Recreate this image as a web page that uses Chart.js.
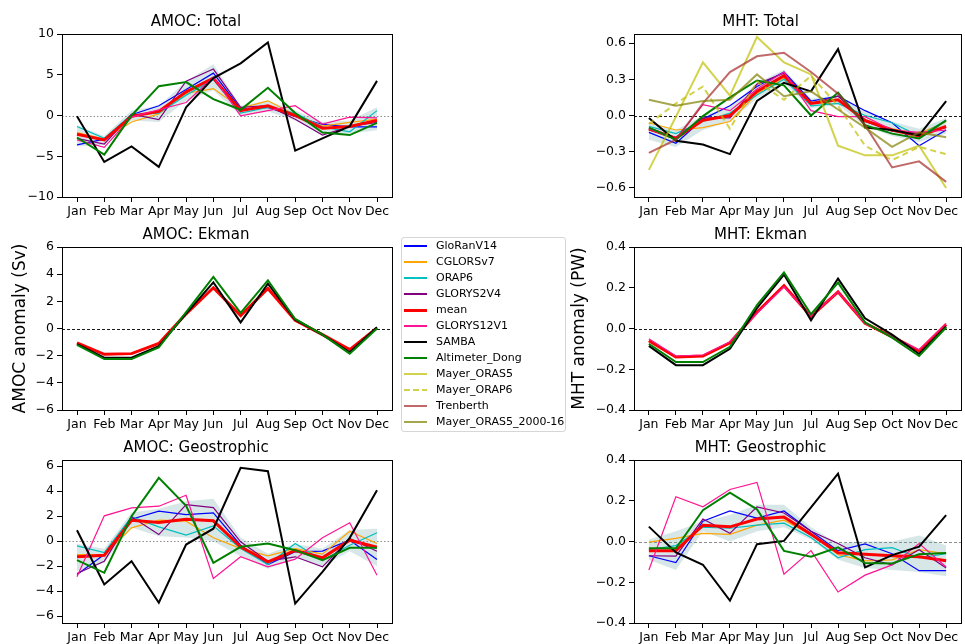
<!DOCTYPE html>
<html>
<head>
<meta charset="utf-8">
<script src="https://cdn.jsdelivr.net/npm/chart.js@4.4.0/dist/chart.umd.min.js"></script>
<style>
body { margin:0; background:#fff; width:965px; height:644px; position:relative; overflow:hidden; font-family:'DejaVu Sans', sans-serif; }
.panel { position:absolute; }
#legend { position:absolute; left:401px; top:237px; width:163px; height:193px; border:1px solid #d6d6d6; border-radius:3px; background:#fff; }
.row { position:absolute; left:0; height:16px; width:163px; }
.sample { position:absolute; left:2px; width:23px; top:8px; }
.lab { position:absolute; left:34px; top:0; line-height:16px; font-size:11px; color:#000; white-space:nowrap; }
</style>
</head>
<body>

<canvas id="c1" class="panel" style="left:0;top:0" width="400" height="227"></canvas>
<canvas id="c2" class="panel" style="left:560px;top:0" width="405" height="227"></canvas>
<canvas id="c3" class="panel" style="left:0;top:213px" width="400" height="227"></canvas>
<canvas id="c4" class="panel" style="left:560px;top:213px" width="405" height="227"></canvas>
<canvas id="c5" class="panel" style="left:0;top:426px" width="400" height="227"></canvas>
<canvas id="c6" class="panel" style="left:560px;top:426px" width="405" height="227"></canvas>
<div id="legend"></div>

<script>
// =========================
// DATOS
// =========================
const months = ['Jan','Feb','Mar','Apr','May','Jun','Jul','Aug','Sep','Oct','Nov','Dec'];
const names = ['GloRanV14','CGLORSv7','ORAP6','GLORYS2V4','mean','GLORYS12V1','SAMBA',
               'Altimeter_Dong','Mayer_ORAS5','Mayer_ORAP6','Trenberth','Mayer_ORAS5_2000-16'];

// AMOC: Total (Sv)
const aT_gloran   = [-3.6,-2.9,0.1,1.2,3.2,5.2,0.8,1.0,-0.1,-1.1,-1.4,-1.4];
const aT_cglors   = [-2.1,-2.9,-0.8,0.2,2.7,3.3,0.9,1.8,0.1,-1.3,-0.85,-0.45];
const aT_orap6    = [-1.35,-2.8,0.1,0.3,2.5,4.4,0.3,1.0,0.3,-1.4,-2.0,0.6];
const aT_glorys2  = [-2.8,-3.5,0.15,-0.5,4.2,5.7,1.0,1.2,-0.45,-2.4,-1.35,-0.85];
const aT_mean     = [-2.3,-3.0,-0.1,0.5,2.9,4.6,0.6,1.2,0.0,-1.55,-1.35,-0.6];
const aT_glorys12 = [-3.0,-3.9,-0.2,0.7,1.6,4.7,-0.05,0.6,1.2,-1.05,-0.2,-0.3];
const aT_samba    = [-0.1,-5.7,-3.8,-6.3,1.0,4.6,6.4,8.95,-4.3,-2.8,-1.3,4.25];
const aT_dong     = [-2.7,-4.8,0.0,3.6,4.1,2.0,0.7,3.4,0.3,-2.1,-2.4,-0.9];
const aT_bandHi   = [-1.2,-2.5,0.6,1.2,4.2,6.3,1.2,1.8,0.6,-0.8,-0.6,1.0];
const aT_bandLo   = [-3.8,-3.6,-0.6,-0.8,1.8,3.1,0.0,0.5,-0.6,-2.3,-2.2,-1.8];

// MHT: Total (PW)
const mT_gloran   = [-0.14,-0.23,-0.03,0.08,0.24,0.36,0.12,0.16,0.04,-0.06,-0.25,-0.12];
const mT_cglors   = [-0.06,-0.12,-0.10,-0.05,0.18,0.31,0.10,0.13,-0.05,-0.11,-0.15,-0.05];
const mT_orap6    = [-0.09,-0.15,-0.05,0.02,0.17,0.30,0.08,0.10,0.00,-0.06,-0.17,-0.04];
const mT_glorys2  = [-0.12,-0.18,-0.02,-0.02,0.26,0.35,0.10,0.16,-0.05,-0.13,-0.15,-0.10];
const mT_mean     = [-0.11,-0.19,-0.04,0.0,0.20,0.33,0.10,0.13,-0.04,-0.12,-0.17,-0.09];
const mT_glorys12 = [-0.11,-0.20,0.09,0.04,0.22,0.36,0.04,-0.01,-0.01,-0.12,-0.14,-0.12];
const mT_samba    = [-0.02,-0.21,-0.24,-0.32,0.12,0.27,0.20,0.55,-0.10,-0.12,-0.165,0.12];
const mT_dong     = [-0.10,-0.20,-0.005,0.15,0.29,0.25,0.0,0.19,-0.08,-0.15,-0.19,-0.04];
const mT_oras5    = [-0.45,-0.01,0.44,0.165,0.65,0.44,0.34,-0.25,-0.33,-0.33,-0.25,-0.60];
const mT_orap6m   = [-0.07,0.10,0.24,-0.11,0.28,0.13,0.33,0.08,-0.25,-0.37,-0.26,-0.32];
const mT_trenb    = [-0.31,-0.20,0.10,0.36,0.49,0.52,0.36,0.18,-0.08,-0.43,-0.38,-0.55];
const mT_oras0016 = [0.13,0.08,0.12,0.13,0.34,0.16,0.20,0.05,-0.10,-0.26,-0.14,-0.18];
const mT_bandHi   = [-0.06,-0.12,0.0,0.07,0.27,0.38,0.14,0.17,0.03,-0.05,-0.11,-0.02];
const mT_bandLo   = [-0.20,-0.26,-0.12,-0.05,0.14,0.27,0.06,0.09,-0.09,-0.17,-0.22,-0.15];

// AMOC: Ekman
const aE_mean  = [-1.05,-1.9,-1.85,-1.1,1.08,3.0,0.95,2.95,0.6,-0.45,-1.55,0.05];
const aE_samba = [-1.15,-2.15,-2.15,-1.3,1.1,3.4,0.45,3.3,0.65,-0.45,-1.75,0.1];
const aE_dong  = [-1.2,-2.25,-2.25,-1.4,1.2,3.8,1.15,3.55,0.7,-0.45,-1.85,0.0];

// MHT: Ekman
const mE_glorys12 = [-0.05,-0.135,-0.13,-0.065,0.075,0.205,0.06,0.18,0.025,-0.04,-0.105,0.025];
const mE_mean     = [-0.06,-0.14,-0.135,-0.07,0.08,0.21,0.06,0.18,0.025,-0.04,-0.11,0.02];
const mE_samba    = [-0.085,-0.18,-0.18,-0.1,0.1,0.265,0.04,0.245,0.05,-0.03,-0.125,0.01];
const mE_dong     = [-0.075,-0.165,-0.165,-0.09,0.115,0.275,0.07,0.225,0.03,-0.045,-0.135,0.005];

// AMOC: Geostrophic
const aG_gloran   = [-2.67,-1.07,1.76,2.4,2.13,2.27,-0.32,-1.87,-0.85,-0.8,0.08,-1.47];
const aG_cglors   = [-1.07,-1.07,1.07,1.68,1.6,0.27,-0.59,-1.17,-0.59,-1.04,0.8,-0.19];
const aG_orap6    = [-0.37,-0.91,1.95,1.15,0.48,1.23,-0.59,-1.87,-0.19,-1.52,-0.32,0.67];
const aG_glorys2  = [-2.59,-1.6,1.95,0.53,2.93,2.69,-0.05,-1.6,-1.25,-2.05,0.21,-0.8];
const aG_mean     = [-1.25,-1.12,1.68,1.5,1.76,1.63,-0.45,-1.65,-0.75,-1.33,0.08,-0.48];
const aG_glorys12 = [-2.85,2.03,2.67,2.8,3.68,-2.99,-1.25,-2.05,-1.44,0.27,1.47,-2.72];
const aG_samba    = [0.88,-3.47,-1.6,-4.93,-0.27,1.0,5.87,5.6,-5.0,-2.45,0.27,4.08];
const aG_dong     = [-1.52,-2.53,2.0,5.07,2.83,-1.73,-0.45,-0.19,-0.72,-1.52,-0.53,-0.53];
const aG_bandHi   = [-0.2,-0.6,2.3,2.6,3.2,3.4,0.3,-1.0,-0.2,-0.6,0.9,1.0];
const aG_bandLo   = [-2.4,-1.7,1.1,0.4,0.3,0.0,-1.2,-2.2,-1.3,-2.0,-0.8,-2.0];

// MHT: Geostrophic
const mG_gloran   = [-0.07,-0.103,0.1,0.15,0.115,0.15,0.05,-0.045,-0.012,-0.06,-0.143,-0.143];
const mG_cglors   = [-0.003,0.015,0.04,0.035,0.08,0.105,0.035,-0.065,-0.095,-0.09,-0.04,-0.06];
const mG_orap6    = [-0.04,-0.02,0.07,0.065,0.08,0.09,0.02,-0.08,-0.04,-0.03,-0.08,-0.06];
const mG_glorys2  = [-0.07,-0.072,0.11,0.04,0.17,0.14,0.05,-0.01,-0.08,-0.115,-0.04,-0.13];
const mG_mean     = [-0.045,-0.045,0.08,0.072,0.11,0.12,0.035,-0.055,-0.062,-0.07,-0.075,-0.095];
const mG_glorys12 = [-0.14,0.22,0.17,0.255,0.29,-0.16,-0.045,-0.248,-0.165,-0.115,-0.01,-0.125];
const mG_samba    = [0.073,-0.054,-0.114,-0.29,-0.013,0.003,0.167,0.333,-0.127,-0.067,-0.025,0.129];
const mG_dong     = [-0.033,-0.033,0.154,0.24,0.158,-0.046,-0.075,-0.029,-0.106,-0.108,-0.062,-0.057];
const mG_bandHi   = [0.01,0.05,0.1,0.13,0.18,0.18,0.07,-0.01,0.0,0.0,0.03,-0.02];
const mG_bandLo   = [-0.09,-0.14,0.05,0.0,0.05,0.07,0.01,-0.09,-0.13,-0.14,-0.15,-0.17];

// ticks del eje y
const amocTotalTicks = [-10,-5,0,5,10];
const mhtTotalTicks  = [-0.6,-0.3,0,0.3,0.6];
const amocEkTicks    = [-6,-4,-2,0,2,4,6];
const mhtTicks       = [-0.4,-0.2,0,0.2,0.4];
const amocGeoTicks   = [-6,-4,-2,0,2,4,6];

// =========================
// ESTILOS
// =========================
const colors = ['#0000ff','#ffa500','#00bfbf','#800080','#ff0000','#ff1493','#000000',
                '#008000','rgba(191,191,0,0.7)','rgba(191,191,0,0.7)','rgba(165,42,42,0.7)','rgba(128,128,0,0.7)'];
const widths = [1.2,1.2,1.2,1.2,3,1.2,2,2,2,2,2,2];
const dashes = [[],[],[],[],[],[],[],[],[],[6,4],[],[]];
const bandColor = 'rgba(95,158,160,0.25)';

Chart.defaults.font.family = "'DejaVu Sans', sans-serif";
Chart.defaults.color = '#000';
Chart.defaults.animation = false;

// marco + línea cero
const framePlugin = {
    id: 'frame',
    beforeDatasetsDraw(chart, args, opts) {
        const {ctx, chartArea: a, scales} = chart;
        const y0 = Math.round(scales.y.getPixelForValue(0)) + 0.5;
        ctx.save();
        ctx.strokeStyle = opts.zeroColor;
        ctx.lineWidth = 0.9;
        ctx.setLineDash(opts.zeroDash);
        ctx.beginPath();
        ctx.moveTo(a.left, y0);
        ctx.lineTo(a.right, y0);
        ctx.stroke();
        ctx.restore();
    },
    afterDraw(chart) {
        const {ctx, chartArea: a} = chart;
        ctx.save();
        ctx.strokeStyle = '#000';
        ctx.lineWidth = 1;
        ctx.strokeRect(Math.round(a.left) + 0.5, Math.round(a.top) + 0.5,
                       Math.round(a.right - a.left), Math.round(a.bottom - a.top));
        ctx.restore();
    }
};

function fmt(v, d) {
    return (v < 0 ? '\u2212' : '') + Math.abs(v).toFixed(d);
}

function serie(data, k) {
    return {
        label: names[k],
        data: data.map((y, i) => ({x: i, y: y})),
        borderColor: colors[k],
        borderWidth: widths[k],
        borderDash: dashes[k],
        pointRadius: 0,
        fill: false,
        tension: 0,
        order: -k
    };
}

function banda(hi, lo) {
    return [
        { data: hi.map((y, i) => ({x: i, y: y})), borderWidth: 0, borderColor: 'rgba(0,0,0,0)',
          backgroundColor: bandColor, pointRadius: 0, fill: '+1', order: 50 },
        { data: lo.map((y, i) => ({x: i, y: y})), borderWidth: 0, borderColor: 'rgba(0,0,0,0)',
          pointRadius: 0, fill: false, order: 51 }
    ];
}

function panel(id, title, datasets, ymin, ymax, yticks, dec, zero, ylabel, left) {
    const yW = left ? 62 : 74;
    new Chart(document.getElementById(id), {
        type: 'line',
        data: { datasets: datasets },
        plugins: [framePlugin],
        options: {
            responsive: false,
            layout: { padding: { top: 13, right: left ? 8 : 4, left: 0, bottom: 0 } },
            plugins: {
                legend: { display: false },
                tooltip: { enabled: false },
                title: { display: true, text: title, font: { size: 15, weight: 'normal' },
                         color: '#000', padding: { top: 0, bottom: 3 } },
                frame: zero
            },
            scales: {
                x: {
                    type: 'linear', min: -0.55, max: 11.55,
                    afterBuildTicks: s => { s.ticks = months.map((m, i) => ({value: i})); },
                    afterFit: s => { s.height = 30; },
                    ticks: { autoSkip: false, maxRotation: 0, padding: 2, font: { size: 12.5 },
                             color: '#000', callback: v => months[v] },
                    grid: { drawOnChartArea: false, drawTicks: true, tickLength: 5, color: '#000' },
                    border: { display: false }
                },
                y: {
                    min: ymin, max: ymax,
                    afterBuildTicks: s => { s.ticks = yticks.map(v => ({value: v})); },
                    afterFit: s => { s.width = yW; },
                    ticks: { padding: 3, font: { size: 12.5 }, color: '#000', callback: v => fmt(v, dec) },
                    grid: { drawOnChartArea: false, drawTicks: true, tickLength: 5, color: '#000' },
                    border: { display: false },
                    title: { display: !!ylabel, text: ylabel || '', font: { size: 17 }, color: '#000',
                             padding: { top: left ? 10 : 9, bottom: 0 } }
                }
            }
        }
    });
}

const dotted = { zeroColor: '#808080', zeroDash: [1.5, 2] };
const dashedK = { zeroColor: '#000', zeroDash: [3, 2] };
const dashedG = { zeroColor: '#808080', zeroDash: [3, 2] };

panel('c1', 'AMOC: Total', [
    ...banda(aT_bandHi, aT_bandLo),
    serie(aT_gloran, 0), serie(aT_cglors, 1), serie(aT_orap6, 2), serie(aT_glorys2, 3),
    serie(aT_mean, 4), serie(aT_glorys12, 5), serie(aT_samba, 6), serie(aT_dong, 7)
], -10, 10, amocTotalTicks, 0, dotted, null, true);

panel('c2', 'MHT: Total', [
    ...banda(mT_bandHi, mT_bandLo),
    serie(mT_gloran, 0), serie(mT_cglors, 1), serie(mT_orap6, 2), serie(mT_glorys2, 3),
    serie(mT_mean, 4), serie(mT_glorys12, 5), serie(mT_samba, 6), serie(mT_dong, 7),
    serie(mT_oras5, 8), serie(mT_orap6m, 9), serie(mT_trenb, 10), serie(mT_oras0016, 11)
], -0.675, 0.675, mhtTotalTicks, 1, dashedK, null, false);

panel('c3', 'AMOC: Ekman', [
    serie(aE_mean, 4), serie(aE_samba, 6), serie(aE_dong, 7)
], -6, 6, amocEkTicks, 0, dashedK, 'AMOC anomaly (Sv)', true);

panel('c4', 'MHT: Ekman', [
    serie(mE_mean, 4), serie(mE_glorys12, 5), serie(mE_samba, 6), serie(mE_dong, 7)
], -0.4, 0.4, mhtTicks, 1, dashedK, 'MHT anomaly (PW)', false);

panel('c5', 'AMOC: Geostrophic', [
    ...banda(aG_bandHi, aG_bandLo),
    serie(aG_gloran, 0), serie(aG_cglors, 1), serie(aG_orap6, 2), serie(aG_glorys2, 3),
    serie(aG_mean, 4), serie(aG_glorys12, 5), serie(aG_samba, 6), serie(aG_dong, 7)
], -6.55, 6.5, amocGeoTicks, 0, dotted, null, true);

panel('c6', 'MHT: Geostrophic', [
    ...banda(mG_bandHi, mG_bandLo),
    serie(mG_gloran, 0), serie(mG_cglors, 1), serie(mG_orap6, 2), serie(mG_glorys2, 3),
    serie(mG_mean, 4), serie(mG_glorys12, 5), serie(mG_samba, 6), serie(mG_dong, 7)
], -0.4, 0.4, mhtTicks, 1, dashedG, null, false);

// =========================
// LEYENDA
// =========================
const legend = document.getElementById('legend');
names.forEach((n, k) => {
    const row = document.createElement('div');
    row.className = 'row';
    row.style.top = (16 * k) + 'px';
    const s = document.createElement('div');
    s.className = 'sample';
    const w = k === 4 ? 3 : 2;
    if (dashes[k].length) {
        // línea discontinua con gradiente repetido
        s.style.height = w + 'px';
        s.style.background = 'repeating-linear-gradient(90deg, ' + colors[k] + ' 0 6px, transparent 6px 9px)';
    } else {
        s.style.height = w + 'px';
        s.style.background = colors[k];
    }
    s.style.marginTop = (-w / 2) + 'px';
    const t = document.createElement('div');
    t.className = 'lab';
    t.textContent = n;
    row.appendChild(s);
    row.appendChild(t);
    legend.appendChild(row);
});
</script>
</body>
</html>
